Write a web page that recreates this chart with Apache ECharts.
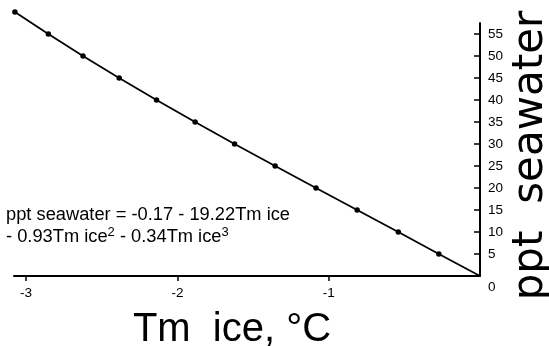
<!DOCTYPE html>
<html>
<head>
<meta charset="utf-8">
<script src="https://cdn.jsdelivr.net/npm/echarts@6/dist/echarts.min.js"></script>
<style>
  html, body { margin: 0; padding: 0; background: #fff; }
  #chart { width: 549px; height: 346px; }
</style>
</head>
<body>
<div id="chart"></div>
<script>
// Freezing-point depression of ice vs. salinity (ppt seawater)
const tmIce = [0, -0.272, -0.540, -0.812, -1.084, -1.354, -1.622, -1.883, -2.138, -2.385, -2.624, -2.853, -3.074];
const salinity = [0, 5, 10, 15, 20, 25, 30, 35, 40, 45, 50, 55, 60];
const xTicks = [-3, -2, -1];
const yTicks = [0, 5, 10, 15, 20, 25, 30, 35, 40, 45, 50, 55];

const FONT = '"Liberation Sans", Arial, Helvetica, sans-serif';
const NAME_FONT = '"DejaVu Sans", "Liberation Sans", sans-serif';

const points = tmIce.map((t, i) => {
  const item = { value: [t, salinity[i]] };
  if (salinity[i] === 0) item.symbolSize = 0;
  return item;
});

const chart = echarts.init(document.getElementById('chart'), null, { renderer: 'canvas' });
chart.setOption({
  animation: false,
  backgroundColor: '#fff',
  grid: { left: 14, right: 69, top: 23, bottom: 70, containLabel: false, outerBoundsMode: 'none' },
  xAxis: {
    type: 'value',
    min: -3.08,
    max: 0,
    name: 'Tm  ice, °C',
    nameLocation: 'middle',
    nameGap: 34,
    nameMoveOverlap: false,
    nameTextStyle: { fontFamily: FONT, fontSize: 40, color: '#000', padding: [0, 30, 0, 0] },
    axisLine: { show: true, onZero: false, lineStyle: { color: '#000', width: 2 } },
    axisTick: { show: true, customValues: xTicks, length: 5, lineStyle: { color: '#000', width: 1.5 } },
    axisLabel: { customValues: xTicks, margin: 10, fontFamily: FONT, fontSize: 13.5, color: '#000' },
    splitLine: { show: false }
  },
  yAxis: {
    type: 'value',
    position: 'right',
    min: 0,
    max: 57.5,
    name: 'ppt  seawater',
    nameLocation: 'middle',
    nameGap: 30,
    nameMoveOverlap: false,
    nameTextStyle: { fontFamily: NAME_FONT, fontSize: 42, color: '#000', padding: [0, 12, 0, 0] },
    axisLine: { show: true, onZero: false, lineStyle: { color: '#000', width: 2 } },
    axisTick: { show: true, inside: true, customValues: yTicks.filter(v => v > 0), length: 6, lineStyle: { color: '#000', width: 1.5 } },
    axisLabel: {
      customValues: yTicks,
      margin: 8,
      fontFamily: FONT,
      fontSize: 13.5,
      color: '#000',
      formatter: v => (v === 0 ? '{z|0}' : String(v)),
      rich: { z: { fontFamily: FONT, fontSize: 13.5, color: '#000', padding: [22, 0, 0, 0] } }
    },
    splitLine: { show: false }
  },
  series: [{
    type: 'line',
    data: points,
    clip: false,
    symbol: 'circle',
    symbolSize: 5.5,
    itemStyle: { color: '#000' },
    lineStyle: { color: '#000', width: 1.8 }
  }],
  graphic: [{
    type: 'text',
    left: 6,
    top: 204,
    style: {
      text: 'ppt seawater = -0.17 - 19.22Tm ice\n- 0.93Tm ice{sup|2} - 0.34Tm ice{sup|3}',
      fontFamily: FONT,
      fontSize: 18.3,
      lineHeight: 22,
      fill: '#000',
      rich: {
        sup: { fontFamily: FONT, fontSize: 13, fill: '#000', verticalAlign: 'top', padding: [0, 0, 9, 0] }
      }
    }
  }]
});
</script>
</body>
</html>
